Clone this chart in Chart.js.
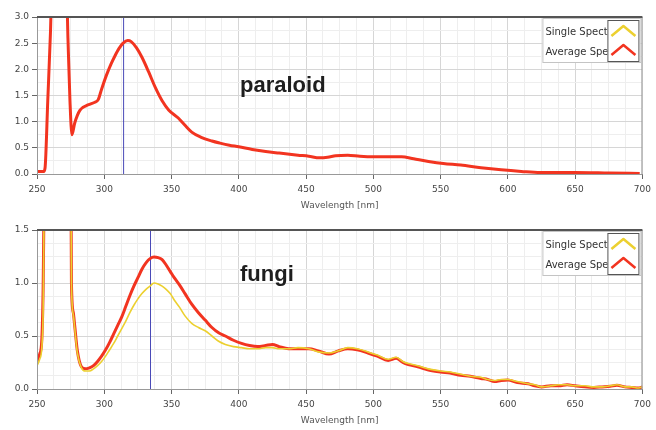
<!DOCTYPE html>
<html>
<head>
<meta charset="utf-8">
<script src="https://cdn.jsdelivr.net/npm/chart.js@4.4.0/dist/chart.umd.min.js"></script>
<style>
  body { margin: 0; background: #fff; }
  .box { position: absolute; left: 0; width: 656px; height: 215px; }
</style>
</head>
<body>
<div class="box" style="top:0"><canvas id="topChart" width="656" height="215"></canvas></div>
<div class="box" style="top:215px"><canvas id="bottomChart" width="656" height="215"></canvas></div>
<script>
// spectra (wavelength nm / intensity)
var paraloidWl = [250, 255, 256, 258, 260, 261, 272, 273, 274.5, 276, 278, 280, 282, 284, 287, 290, 293, 295.5, 298, 301.5, 305, 308, 311, 314, 317.5, 320, 324, 328, 333, 338, 343, 348, 355, 360, 365, 372, 380, 386, 393, 400, 410, 420, 430, 444, 452, 460, 466, 472, 481, 490, 500, 510, 521, 530, 541, 552, 565, 580, 595, 610, 624, 650, 675, 698];
var paraloidAvg = [0.05, 0.05, 0.12, 1.4, 2.7, 3.5, 3.5, 2.6, 1.4, 0.75, 0.97, 1.12, 1.22, 1.27, 1.31, 1.34, 1.37, 1.42, 1.62, 1.88, 2.1, 2.26, 2.4, 2.5, 2.55, 2.53, 2.41, 2.23, 1.95, 1.65, 1.4, 1.22, 1.07, 0.93, 0.8, 0.7, 0.63, 0.59, 0.55, 0.52, 0.47, 0.43, 0.4, 0.36, 0.34, 0.31, 0.32, 0.35, 0.36, 0.34, 0.33, 0.33, 0.33, 0.29, 0.24, 0.2, 0.17, 0.12, 0.08, 0.05, 0.03, 0.03, 0.02, 0.01];

var fungiWl = [250, 252, 253.5, 254.5, 256, 275, 275.6, 277, 278, 280, 283, 286, 289, 292, 295, 298, 301, 304, 307, 310, 313, 316, 319, 322, 325, 328, 331, 334, 337, 340, 343, 346, 349, 352, 356, 360, 365, 370, 375, 380, 385, 390, 396, 402, 408, 414, 420, 425, 430, 437, 444, 452, 459, 467, 474, 481, 488, 496, 503, 511, 517, 522, 526, 533, 541, 550, 557, 565, 572, 580, 585, 590, 595, 600, 607, 615, 620, 625, 632, 638, 644, 650, 657, 664, 670, 676, 681, 687, 692, 697, 700];
var fungiAvg = [0.26, 0.33, 0.45, 0.9, 2.5, 2.5, 1.0, 0.72, 0.6, 0.36, 0.21, 0.19, 0.2, 0.22, 0.26, 0.31, 0.37, 0.44, 0.52, 0.6, 0.68, 0.78, 0.88, 0.97, 1.05, 1.13, 1.19, 1.23, 1.245, 1.24, 1.22, 1.17, 1.11, 1.05, 0.98, 0.9, 0.8, 0.72, 0.65, 0.58, 0.53, 0.5, 0.46, 0.43, 0.41, 0.4, 0.41, 0.42, 0.4, 0.38, 0.38, 0.38, 0.36, 0.33, 0.36, 0.38, 0.37, 0.34, 0.31, 0.27, 0.29, 0.25, 0.23, 0.21, 0.18, 0.16, 0.15, 0.13, 0.12, 0.1, 0.09, 0.07, 0.08, 0.085, 0.06, 0.05, 0.03, 0.02, 0.03, 0.03, 0.04, 0.03, 0.02, 0.015, 0.02, 0.025, 0.035, 0.02, 0.015, 0.01, 0.02];
var fungiSingle = [0.22, 0.28, 0.38, 0.7, 2.5, 2.5, 1.0, 0.7, 0.58, 0.34, 0.2, 0.17, 0.17, 0.19, 0.22, 0.26, 0.31, 0.37, 0.43, 0.5, 0.57, 0.64, 0.72, 0.79, 0.85, 0.9, 0.94, 0.97, 1.0, 0.99, 0.97, 0.94, 0.9, 0.84, 0.77, 0.69, 0.62, 0.58, 0.55, 0.5, 0.45, 0.42, 0.4, 0.39, 0.38, 0.38, 0.39, 0.39, 0.38, 0.38, 0.39, 0.38, 0.35, 0.34, 0.36, 0.39, 0.38, 0.35, 0.32, 0.28, 0.3, 0.26, 0.24, 0.22, 0.19, 0.17, 0.16, 0.14, 0.12, 0.11, 0.09, 0.08, 0.09, 0.09, 0.07, 0.05, 0.04, 0.02, 0.03, 0.04, 0.04, 0.03, 0.03, 0.02, 0.02, 0.03, 0.04, 0.02, 0.02, 0.01, 0.02];

var legendLabels = ['Single Spectrum', 'Average Spectrum'];
var yellow = 'rgb(236,208,48)';
var red = 'rgb(242,52,32)';

function pts(xs, ys) {
  return xs.map(function (x, i) { return { x: x, y: ys[i] }; });
}

function isMult(v, step) {
  var r = v / step;
  return Math.abs(r - Math.round(r)) < 1e-6;
}

// cursor line, sample name, legend and frame
var overlay = {
  id: 'overlay',
  beforeDatasetsDraw: function (chart, args, o) {
    var ca = chart.chartArea, ctx = chart.ctx;
    var x = chart.scales.x.getPixelForValue(o.cursor);
    ctx.save();
    ctx.strokeStyle = '#4a4ab8';
    ctx.lineWidth = 1;
    ctx.beginPath();
    ctx.moveTo(x + 0.5, ca.top);
    ctx.lineTo(x + 0.5, ca.bottom);
    ctx.stroke();
    ctx.restore();
  },
  afterDraw: function (chart, args, o) {
    var ca = chart.chartArea, ctx = chart.ctx;
    ctx.save();
    // frame
    ctx.strokeStyle = '#999';
    ctx.lineWidth = 1;
    ctx.strokeRect(ca.left + 0.5, ca.top + 0.5, ca.right - ca.left - 1, ca.bottom - ca.top);
    ctx.strokeStyle = '#555';
    ctx.lineWidth = 2;
    ctx.beginPath();
    ctx.moveTo(ca.left, ca.top);
    ctx.lineTo(ca.right, ca.top);
    ctx.stroke();

    // sample name
    ctx.fillStyle = '#1e1e1e';
    ctx.font = 'bold 22px "Liberation Sans", Arial, sans-serif';
    ctx.textBaseline = 'alphabetic';
    ctx.fillText(o.name, 240, o.nameY);

    // legend
    var lx = ca.right - 100, ly = ca.top + 1, lw = 98, lh = 44;
    ctx.fillStyle = '#fff';
    ctx.fillRect(lx, ly, lw, lh);
    ctx.strokeStyle = '#c4c4c4';
    ctx.lineWidth = 1;
    ctx.strokeRect(lx + 0.5, ly + 0.5, lw, lh);
    var ix = ca.right - 35;
    ctx.save();
    ctx.beginPath();
    ctx.rect(lx, ly, ix - lx, lh);
    ctx.clip();
    ctx.fillStyle = '#333';
    ctx.font = '10px "DejaVu Sans", sans-serif';
    ctx.textBaseline = 'middle';
    ctx.fillText(legendLabels[0], lx + 3, ly + 14);
    ctx.fillText(legendLabels[1], lx + 3, ly + 34);
    ctx.restore();
    ctx.strokeStyle = '#555';
    ctx.strokeRect(ix + 0.5, ly + 2.5, 31, lh - 3);
    ctx.lineWidth = 2.5;
    ctx.lineJoin = 'round';
    [[yellow, ly + 18], [red, ly + 37]].forEach(function (it) {
      ctx.strokeStyle = it[0];
      ctx.beginPath();
      ctx.moveTo(ix + 4, it[1]);
      ctx.lineTo(ix + 16, it[1] - 10);
      ctx.lineTo(ix + 28, it[1]);
      ctx.stroke();
    });
    ctx.restore();
  }
};

function makeChart(id, datasets, yMax, yStep, padTop, cursor, name, nameY) {
  return new Chart(document.getElementById(id), {
    type: 'line',
    data: { datasets: datasets },
    options: {
      responsive: false,
      animation: false,
      parsing: false,
      layout: { padding: { top: padTop, right: 11, left: 0, bottom: 0 } },
      elements: { point: { radius: 0 }, line: { cubicInterpolationMode: 'monotone', borderJoinStyle: 'round' } },
      scales: {
        x: {
          type: 'linear', min: 250, max: 700,
          afterFit: function (s) { s.height = 41; },
          ticks: {
            stepSize: 12.5, autoSkip: false, maxRotation: 0, padding: 5,
            color: '#444', font: { family: 'DejaVu Sans', size: 9 },
            callback: function (v) { return isMult(v, 50) ? v : ''; }
          },
          grid: {
            tickLength: 5,
            color: function (c) { return isMult(c.tick.value, 50) ? '#d6d6d6' : '#eeeeee'; },
            tickColor: function (c) { return isMult(c.tick.value, 50) ? '#666' : 'rgba(0,0,0,0)'; }
          },
          border: { color: '#777' },
          title: {
            display: true, text: 'Wavelength [nm]', color: '#555',
            font: { family: 'DejaVu Sans', size: 9 }, padding: { top: 0, bottom: 4 }
          }
        },
        y: {
          min: 0, max: yMax,
          afterFit: function (s) { s.width = 37; },
          ticks: {
            stepSize: yStep, autoSkip: false, padding: 3,
            color: '#444', font: { family: 'DejaVu Sans', size: 9 },
            callback: function (v) { return isMult(v, 0.5) ? v.toFixed(1) : ''; }
          },
          grid: {
            tickLength: 5,
            color: function (c) { return isMult(c.tick.value, 0.5) ? '#d6d6d6' : '#eeeeee'; },
            tickColor: function (c) { return isMult(c.tick.value, 0.5) ? '#666' : 'rgba(0,0,0,0)'; }
          },
          border: { color: '#666' }
        }
      },
      plugins: {
        legend: { display: false },
        tooltip: { enabled: false },
        overlay: { cursor: cursor, name: name, nameY: nameY }
      }
    },
    plugins: [overlay]
  });
}

makeChart('topChart', [
  { label: legendLabels[1], data: pts(paraloidWl, paraloidAvg), borderColor: red, borderWidth: 3 }
], 3.0, 0.25, 17, 314, 'paraloid', 92);

makeChart('bottomChart', [
  { label: legendLabels[0], data: pts(fungiWl, fungiSingle), borderColor: yellow, borderWidth: 1.6 },
  { label: legendLabels[1], data: pts(fungiWl, fungiAvg), borderColor: red, borderWidth: 3 }
], 1.5, 0.125, 15, 334, 'fungi', 66);
</script>
</body>
</html>
